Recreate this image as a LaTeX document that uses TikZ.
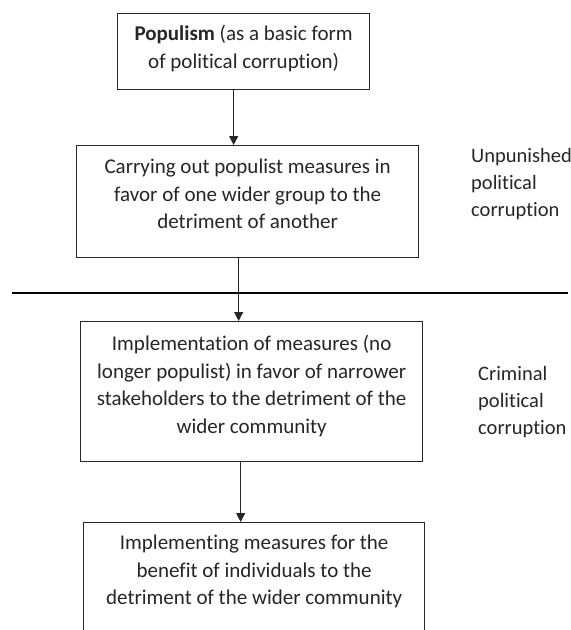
\documentclass[tikz,border=0pt]{standalone}
\usepackage{fontspec}
\setmainfont[Ligatures=NoCommon]{Carlito}
\usetikzlibrary{arrows.meta,calc}
\definecolor{ink}{HTML}{262626}
\begin{document}
\begin{tikzpicture}[x=1pt,y=-1pt,
  box/.style={draw=ink,line width=1.3pt,minimum width=#1,inner sep=0pt,anchor=north west},
  txt/.style={text=ink,align=center,inner sep=0pt,anchor=north,font=\fontsize{21}{27.5}\selectfont},
  side/.style={text=ink,align=left,inner sep=0pt,anchor=north west,font=\fontsize{20.5}{27}\selectfont},
  conn/.style={draw=ink,line width=1pt},
  arr/.style={conn,-{Triangle[width=9pt,length=9pt]}}]
\useasboundingbox (0,0) rectangle (571,630);
\clip (0,0) rectangle (571,630);
% boxes
\node[box=252pt,minimum height=76pt] (b1) at (117,13) {};
\node[box=342pt,minimum height=112pt] (b2) at (76,145) {};
\node[box=342pt,minimum height=140pt] (b3) at (80,321) {};
\node[box=341pt,minimum height=140pt] (b4) at (83,522) {};
% texts
\node[txt] (t1) at ([yshift=-12]b1.north) {\textbf{Populism} (as a basic form\\of political corruption)};
\node[txt] (t2) at ([yshift=-14]b2.north) {Carrying out populist measures in\\favor of one wider group to the\\detriment of another};
\node[txt] (t3) at ([yshift=-14]b3.north) {Implementation of measures (no\\longer populist) in favor of narrower\\stakeholders to the detriment of the\\wider community};
\node[txt] (t4) at ([yshift=-13]b4.north) {Implementing measures for the\\benefit of individuals to the\\detriment of the wider community};
\node[side] (s1) at (471,148) {Unpunished\\political\\corruption};
\node[side] (s2) at (478,366) {Criminal\\political\\corruption};
% divider
\coordinate (dl) at (12,293);
\coordinate (dr) at (568,293);
\draw[draw=black,line width=2.6pt] (dl) -- (dr);
% connectors
\draw[arr] ([xshift=-10]b1.south) -- ([xshift=-14]b2.north);
\draw[arr] ([xshift=-9]b2.south) -- ([xshift=-13]b3.north);
\draw[arr] ([xshift=-11]b3.south) -- ([xshift=-13.5]b4.north);
\end{tikzpicture}
\end{document}
